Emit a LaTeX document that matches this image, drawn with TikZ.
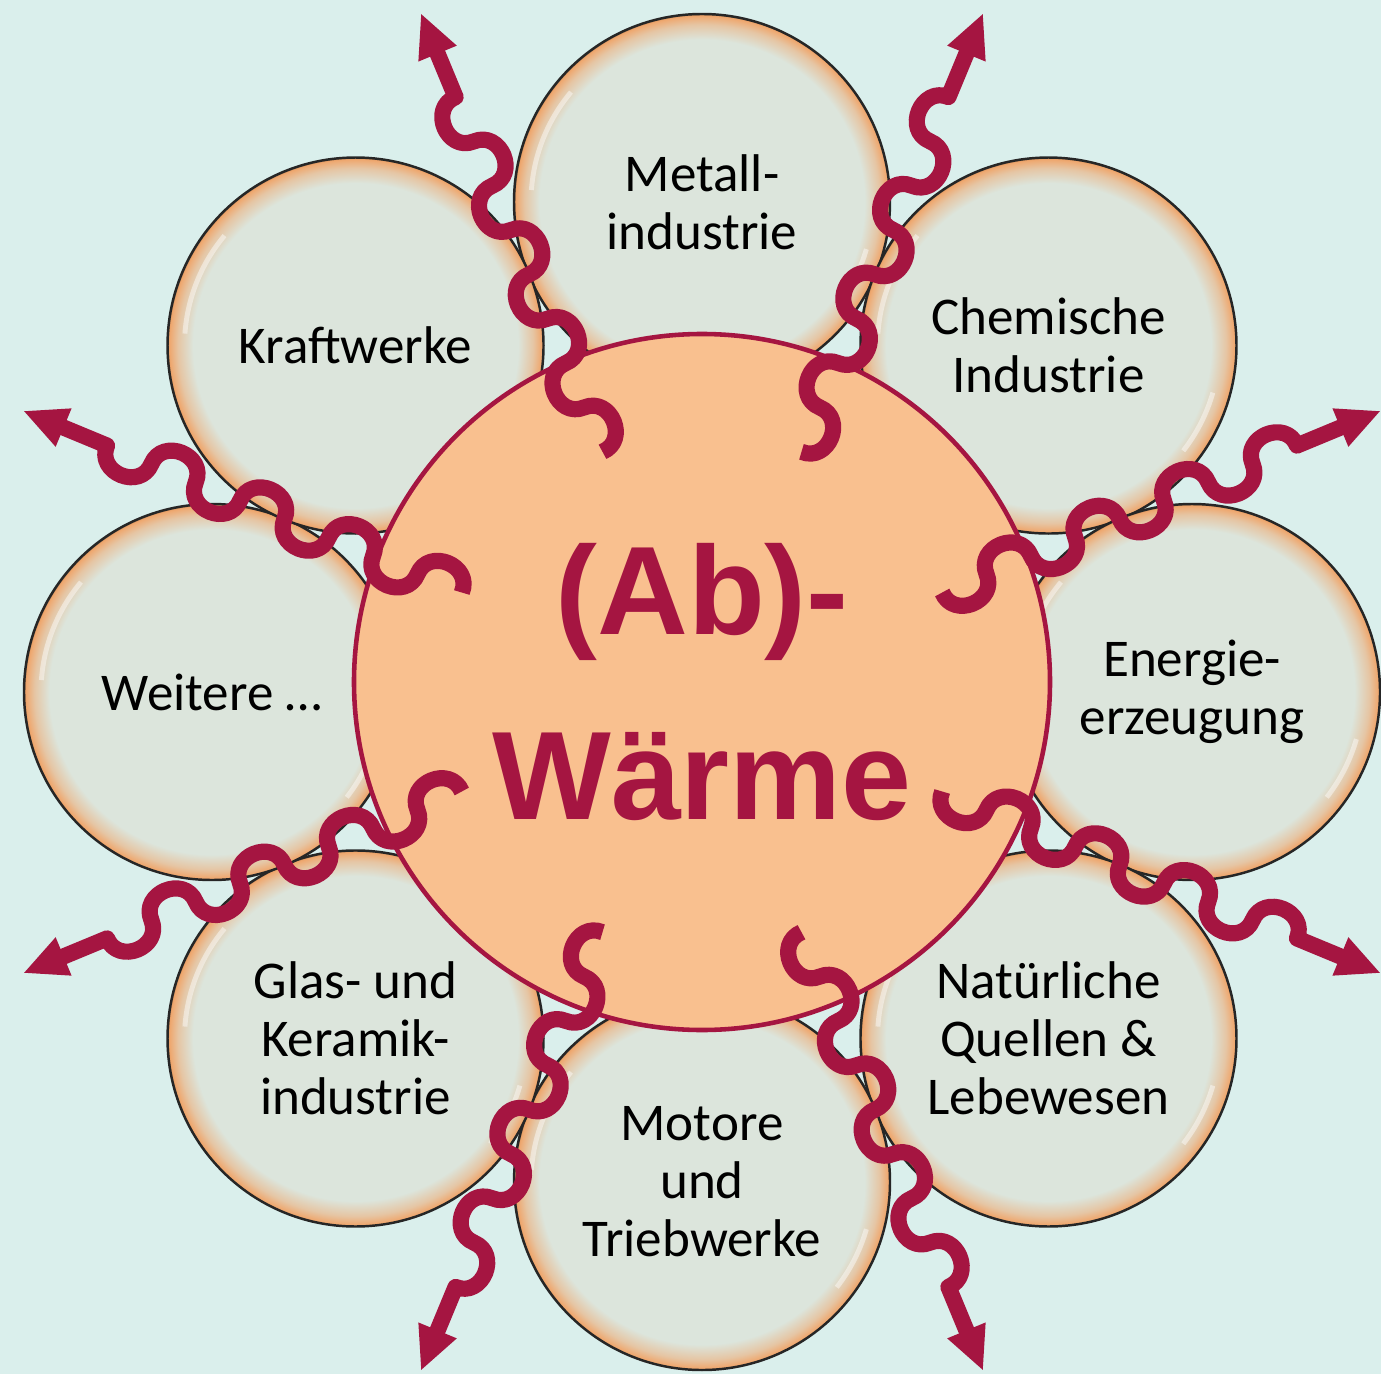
\documentclass[tikz,border=0pt]{standalone}
\usepackage{fontspec}
\setmainfont{Carlito}
\newfontfamily\titlefont{Liberation Sans}
\usetikzlibrary{arrows.meta,decorations}
\definecolor{crimson}{HTML}{A51541}
\definecolor{peach}{HTML}{F9C08F}
\definecolor{aqua}{HTML}{DAEFEC}
\definecolor{sage}{HTML}{DCE5DC}
\definecolor{amber}{HTML}{EFA66C}
\definecolor{rimline}{HTML}{262626}
\pgfdeclareradialshading{rim}{\pgfpoint{0bp}{0bp}}{color(0bp)=(sage); color(21.6bp)=(sage);
  color(23.6bp)=(amber!50!sage); color(24.8bp)=(amber); color(25bp)=(amber!70!black); color(50bp)=(amber!70!black)}
% round wave: half circles turn and turn about
\pgfdeclaredecoration{curl}{dip}{
  \state{dip}[width=\pgfdecorationsegmentlength,next state=rise]{
    \pgfpathcurveto{\pgfpoint{0pt}{-1.333*\pgfdecorationsegmentamplitude}}
      {\pgfpoint{\pgfdecorationsegmentlength}{-1.333*\pgfdecorationsegmentamplitude}}
      {\pgfpoint{\pgfdecorationsegmentlength}{0pt}}}
  \state{rise}[width=\pgfdecorationsegmentlength,next state=dip]{
    \pgfpathcurveto{\pgfpoint{0pt}{1.333*\pgfdecorationsegmentamplitude}}
      {\pgfpoint{\pgfdecorationsegmentlength}{1.333*\pgfdecorationsegmentamplitude}}
      {\pgfpoint{\pgfdecorationsegmentlength}{0pt}}}
  \state{final}{\pgfpathlineto{\pgfpointdecoratedpathlast}}
}

\begin{document}
\begin{tikzpicture}[bubble/.style={circle,minimum size=3.76cm,inner sep=0pt,shading=rim,draw=rimline,
  line width=0.7pt,align=center,font=\fontsize{15.1}{16.5}\selectfont},
  hub/.style={circle,minimum size=6.96cm,fill=peach,draw=crimson,line width=1.3pt,align=center,
  text=crimson,font=\titlefont\bfseries\fontsize{35.8}{44}\selectfont},
  glint/.style={draw=white,line width=1.4pt,opacity=.45},
  heat/.style={draw=crimson,line width=4.6pt,line join=round,decorate,
  decoration={curl,amplitude=2.2mm,segment length=4.8mm,post length=8.3mm},
  -{Triangle[length=4.4mm,width=3.8mm]}}]
\path[use as bounding box,fill=aqua] (-7.02,-6.82) rectangle (6.79,6.92);

% ring of sources
\foreach \ang/\nm/\txt in {90/metall/{Metall-\\industrie},45/chemie/{Chemische\\Industrie},
  0/energie/{Energie-\\erzeugung},-45/natur/{Natürliche\\Quellen \&\\Lebewesen},
  -90/motor/{Motore\\und\\Triebwerke},-135/glas/{Glas- und\\Keramik-\\industrie},
  180/weitere/{Weitere …},135/kraft/{Kraftwerke}}{
  \node[bubble] (\nm) at (\ang:4.9) {\txt};
  \draw[glint] ([shift={(140:1.71)}]\nm.center) arc[start angle=140,end angle=176,radius=1.71];
  \draw[glint] ([shift={(-38:1.71)}]\nm.center) arc[start angle=-38,end angle=-16,radius=1.71];
}
\node[hub] (waerme) at (0,0.10) {(Ab)-\\[8.5pt]Wärme};

% heat going out
\foreach \a [count=\i] in {22.5,67.5,...,337.5}{
  \coordinate (src\i) at (\a:2.6);
  \coordinate (out\i) at (\a:7.35);
  \draw[heat] (src\i) -- (out\i);
}
\end{tikzpicture}
\end{document}
